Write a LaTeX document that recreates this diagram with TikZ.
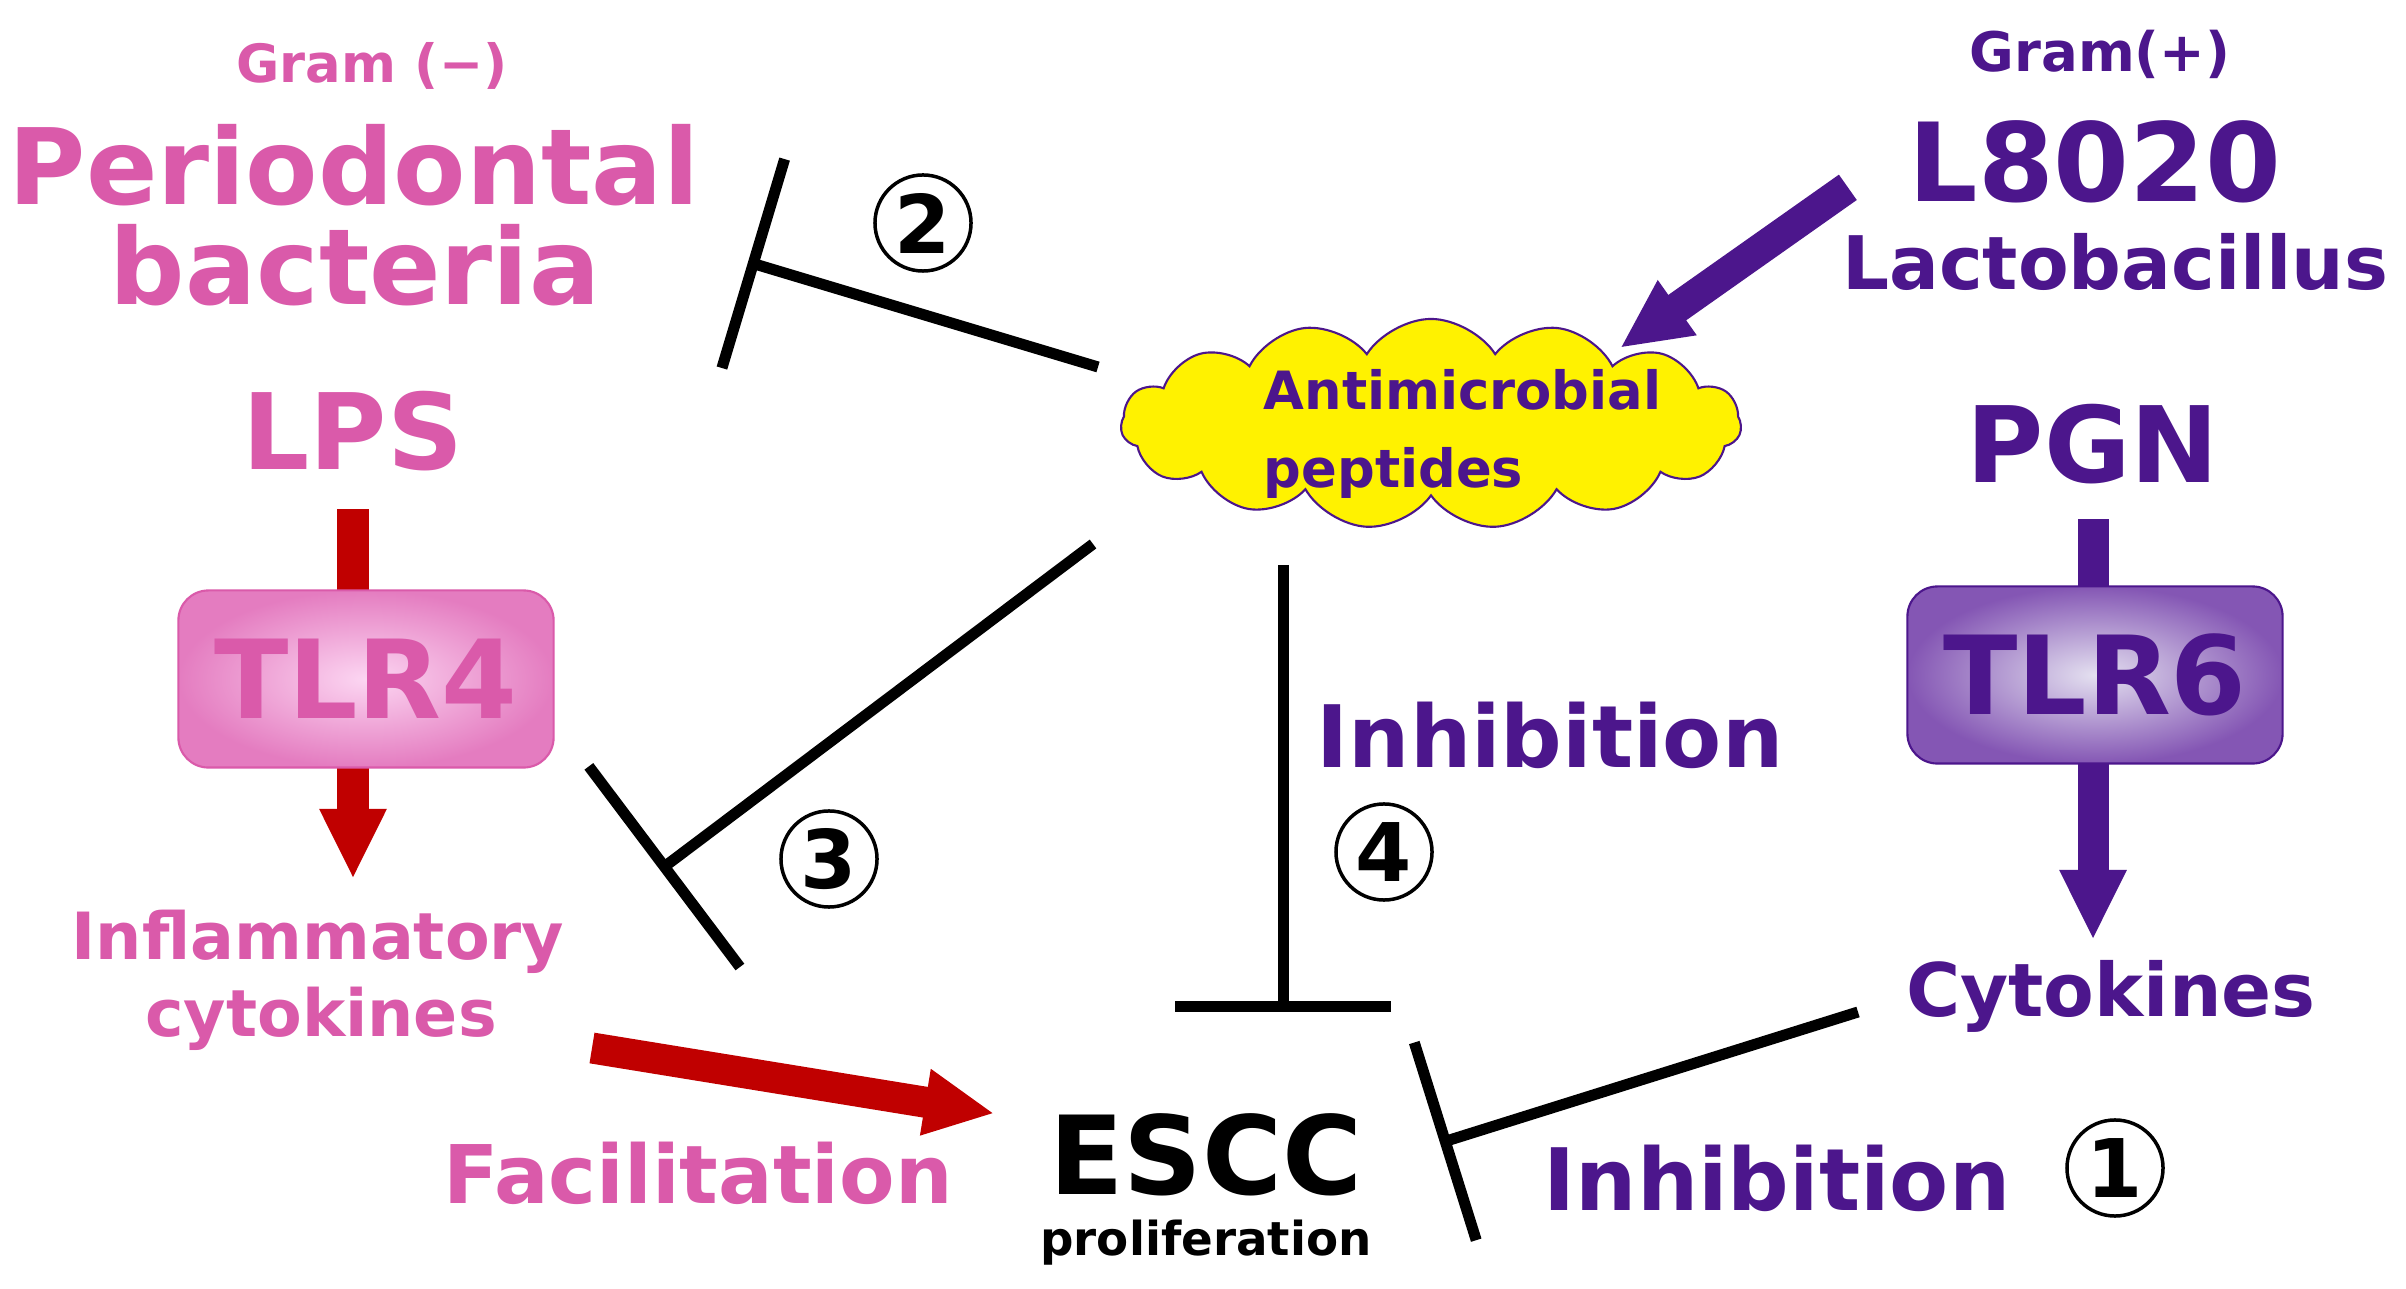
\documentclass[tikz,border=0pt]{standalone}
\usepackage{fontspec}
\setmainfont{DejaVu Sans}
\usetikzlibrary{positioning, arrows.meta, shapes.symbols, shapes.geometric}
\definecolor{pinkc}{RGB}{218,90,170}
\definecolor{purpc}{RGB}{76,22,140}
\definecolor{redc}{RGB}{192,0,0}
\newcommand{\fsz}[1]{\fontsize{#1pt}{#1pt}\selectfont}

\begin{document}
\begin{tikzpicture}[x=0.01cm, y=-0.01cm]
            \tikzset {
                lbl/.style={inner sep=0, anchor=base, font=\bfseries},
                pinklbl/.style={lbl, text=pinkc},
                purplbl/.style={lbl, text=purpc},
                tlrbox/.style={
                        draw,
                        rounded corners=3mm,
                        minimum width=3.75cm,
                        minimum height=1.77cm,
                        line width=0.6pt,
                        font=\bfseries\fsz{31}
                    },
                fatarrow/.style={line width=3.1mm, -{Triangle[length=7mm, width=6.2mm]}},
                inhibit/.style={line width=1.1mm},
                numcirc/.style={circle, draw, line width=0.35mm, minimum size=9.6mm, inner sep=0, font=\bfseries\fsz{23}}
            }
            \path[use as bounding box, fill=white] (0,0) rectangle (2406,1289);

            % Gram negative
            \node[pinklbl, font=\bfseries\fsz{15}] (gramneg) at (372,83) {Gram (−)};
            \node[pinklbl, font=\bfseries\fsz{30}] (perio) at (354,205) {Periodontal};
            \node[pinklbl, font=\bfseries\fsz{30}] (bact) at (355,305) {bacteria};
            \node[pinklbl, font=\bfseries\fsz{30}] (lps) at (353,470) {LPS};
            \node[pinklbl, font=\bfseries\fsz{18.5}] (inflam) at (318,959) {Inflammatory};
            \node[pinklbl, font=\bfseries\fsz{18.5}] (cytol) at (321,1036) {cytokines};
            \node[pinklbl, font=\bfseries\fsz{23}] (facil) at (698,1203) {Facilitation};

            \draw[redc, line width=3.1mm] ([yshift=-3.7mm]lps.south) -- (lps.south |- 0,600);
            \draw[fatarrow, redc] (lps.south |- 0,760) -- ++(0,119);
            \node[tlrbox, draw=pinkc, text=pinkc, inner color={rgb,255:red,252;green,214;blue,242}, outer color={rgb,255:red,228;green,124;blue,192}] (tlr4) at (366,679) {TLR4};

            % Gram positive
            \node[purplbl, font=\bfseries\fsz{15.5}] (grampos) at (2100,72) {Gram(+)};
            \node[purplbl, font=\bfseries\fsz{31}] (l8020) at (2095,202) {L8020};
            \node[purplbl, font=\bfseries\fsz{21}] (lacto) at (2115,290) {Lactobacillus};
            \node[purplbl, font=\bfseries\fsz{30}] (pgn) at (2093,483) {PGN};
            \node[purplbl, font=\bfseries\fsz{21}] (cytor) at (2111,1017) {Cytokines};

            \draw[purpc, line width=3.1mm] ([yshift=-3.4mm]pgn.south) -- (pgn.south |- 0,600);
            \draw[fatarrow, purpc] (pgn.south |- 0,750) -- ++(0,190);
            \node[tlrbox, draw=purpc, text=purpc, inner color={rgb,255:red,228;green,224;blue,240}, outer color={rgb,255:red,132;green,86;blue,180}] (tlr6) at (2095,675) {TLR6};

            % peptides
            \node[cloud, cloud puffs=15, cloud puff arc=115, draw=purpc, fill=yellow, line width=0.6pt, minimum width=6.2cm, minimum height=2.1cm] (amp) at (1431,424) {};
            \node[purplbl, font=\bfseries\fsz{15}, anchor=base west] (amptxt) at (1263,410) {Antimicrobial};
            \node[purplbl, font=\bfseries\fsz{15}, anchor=base west] (amptxtb) at (1263,488) {peptides};
            \draw[fatarrow, purpc] ([xshift=-6mm, yshift=-2.5mm]l8020.west) -- (1620,348);

            % ESCC
            \node[lbl, font=\bfseries\fsz{31}] (escc) at (1206,1194) {ESCC};
            \node[lbl, font=\bfseries\fsz{13.3}] (prolif) at (1206,1255) {proliferation};
            \draw[fatarrow, redc, shorten >=5.5mm] (592,1048) -- ([yshift=3.2mm]escc.west);

            \node[purplbl, font=\bfseries\fsz{24.5}] (inhmid) at (1550,768) {Inhibition};
            \node[purplbl, font=\bfseries\fsz{24.5}] (inhlow) at (1777,1210) {Inhibition};

            % inhibitions
            \coordinate (i2s) at (1098,367);
            \coordinate (i2e) at (748,262);
            \coordinate (i3s) at (1093,544);
            \coordinate (i3e) at (660,870);
            \coordinate (i4s) at (1283,565);
            \coordinate (i4e) at (1283,1012);
            \coordinate (i1s) at (1858,1012);
            \coordinate (i1e) at (1440,1143);
            \draw[inhibit, -{Bar[width=21.8mm]}] (i2s) -- (i2e);
            \draw[inhibit, -{Bar[width=25.1mm]}] (i3s) -- (i3e);
            \draw[inhibit, -{Bar[width=21.5mm]}] (i4s) -- (i4e);
            \draw[inhibit, -{Bar[width=20.7mm]}] (i1s) -- (i1e);

            \node[numcirc] (n1) at (2115,1168) {1};
            \node[numcirc] (n2) at (923,223) {2};
            \node[numcirc] (n3) at (829,859) {3};
            \node[numcirc] (n4) at (1384,852) {4};
        \end{tikzpicture}
\end{document}
